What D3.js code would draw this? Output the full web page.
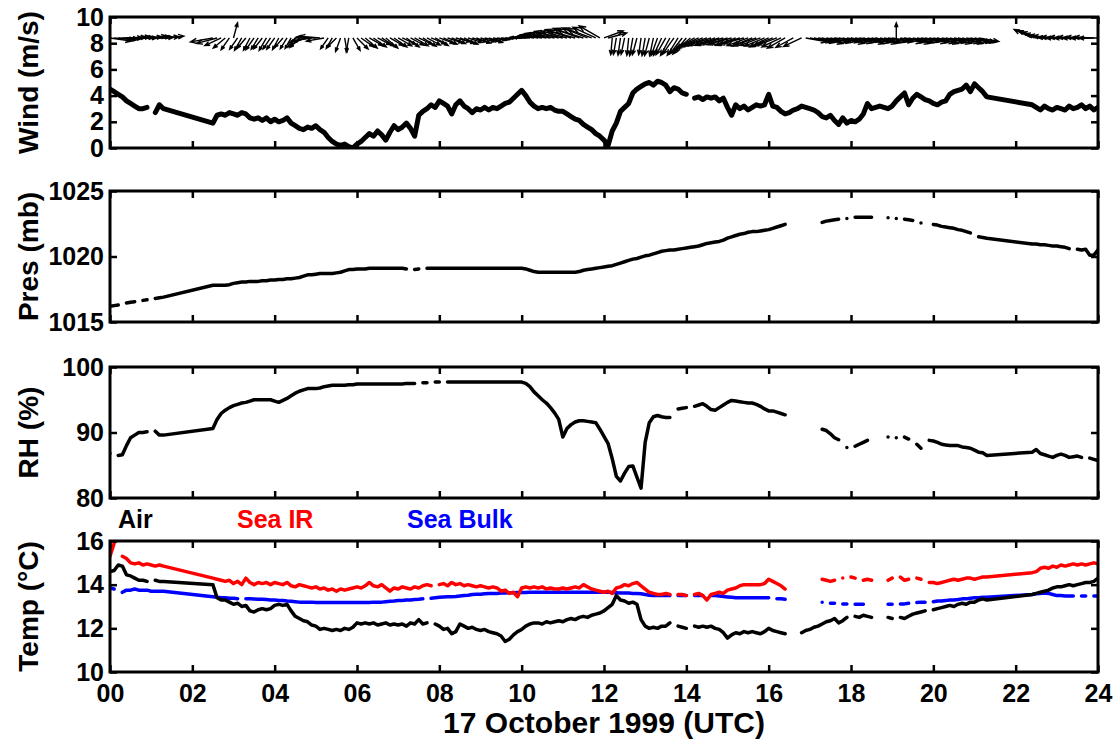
<!DOCTYPE html>
<html>
<head>
<meta charset="utf-8">
<script src="https://cdn.jsdelivr.net/npm/d3@7"></script>
<style>
  body { margin: 0; background: #fff; }
  text { font-family: "Liberation Sans", Arial, Helvetica, sans-serif; font-weight: bold; }
</style>
</head>
<body>
<svg id="chart" width="1116" height="740"></svg>
<script>
// time grid in tenths of an hour; no records between 1.3-2.5 h and 21.3-22.4 h
const recordSpans = [[0, 13], [25, 213], [224, 240]];
const hours = recordSpans.flatMap(([a, b]) => d3.range(a, b + 1).map(k => k / 10));

const xTicks = [0, 2, 4, 6, 8, 10, 12, 14, 16, 18, 20, 22, 24];

// wind speed (m/s)
const windSpeed = [
  4.5,4.3,4.1,3.9,3.6,3.4,3.2,3.0,3.0,3.1,null,2.7,3.3,3.0,
  1.9,2.5,2.6,2.5,2.7,
  2.6,2.5,2.7,2.6,2.3,2.2,2.3,2.1,2.3,2.0,
  2.2,2.0,2.1,2.3,1.9,1.7,1.5,1.4,1.6,1.5,
  1.7,1.4,1.2,0.8,0.5,0.3,0.2,0.3,0.1,0.0,
  0.3,0.5,0.8,1.1,0.9,1.3,1.0,0.6,1.2,1.7,
  1.4,1.6,1.9,1.5,0.9,2.5,2.8,3.0,3.3,3.1,
  3.6,3.4,3.2,2.6,3.3,3.6,3.2,3.0,2.7,3.0,
  2.9,3.1,2.9,3.1,3.0,3.2,3.4,3.5,3.8,4.1,
  4.4,4.0,3.5,3.2,3.0,3.1,3.0,3.1,2.9,2.8,
  2.8,2.6,2.4,2.2,2.1,1.8,1.6,1.4,1.1,0.9,
  0.6,0.2,1.3,1.9,2.8,3.1,3.4,4.2,4.5,4.7,
  4.9,5.0,4.8,5.1,5.0,4.8,4.3,4.6,4.5,4.2,
  4.1,null,3.8,3.9,3.7,3.9,3.8,3.9,3.6,3.8,
  3.1,2.5,3.3,3.0,3.2,2.9,3.1,3.3,3.2,3.3,
  4.1,3.2,3.1,2.8,2.6,2.7,2.9,3.0,3.2,3.1,
  3.0,2.9,2.7,2.4,2.3,2.5,2.1,1.8,2.3,1.9,
  2.1,2.0,2.2,2.6,3.4,3.0,3.1,3.2,3.1,3.0,
  3.2,3.6,3.9,4.2,3.3,3.8,4.1,3.9,3.7,3.6,
  3.4,3.3,3.5,3.6,4.1,4.3,4.4,4.5,4.8,4.3,
  4.9,4.6,4.3,3.9,
  3.3,3.1,2.9,3.2,3.0,2.9,3.1,3.0,2.9,3.2,3.0,3.1,3.3,3.0,3.2,2.9,3.1
];

// wind stick direction (degrees, 0 = toward right, 90 = up)
const stickDir = [
  -8,-5,-3,0,2,3,2,0,3,5,4,2,3,5,
  -170,-165,-155,-140,-125,
  75,-125,-120,-130,-118,-125,-122,-128,-120,-124,
  -125,-118,-130,-122,-120,-128,-135,-150,-165,-172,
  178,175,-170,-125,-120,-135,-110,-80,-100,-60,
  -45,-35,-40,-30,-35,-28,-33,-40,-30,-35,
  -30,-25,-35,-28,-30,-25,-32,-28,-22,-30,
  -20,-25,-18,-22,-15,-20,-25,-18,-15,-20,
  -15,-12,-18,-10,-8,-5,-3,0,3,5,
  175,178,175,172,170,172,168,170,168,165,
  168,165,162,165,160,163,158,160,155,150,
  20,15,-95,-100,-98,-102,-96,-100,-105,-98,
  -100,-105,-102,-110,-115,-120,-118,-125,-122,-128,
  -130,-140,-150,-155,-158,-160,-162,-160,-163,-165,
  -162,-165,-160,-163,-165,-160,-158,-162,-160,-158,
  -155,-158,-160,-155,-150,null,-152,null,-155,-10,
  -10,-12,-8,-15,-10,-12,-8,-10,-14,-10,
  -12,-10,-8,-15,-12,-10,-14,-12,-10,-8,
  -10,90,-12,-10,-14,-12,-10,-8,-12,-10,
  -12,-15,-10,-12,-14,-10,-12,-15,-10,-12,
  -12,-10,null,null,
  155,158,162,168,172,175,178,178,180,178,180,178,180,178,180,178,180
];

// wind stick magnitude (m/s)
const stickMag = [
  3.6,3.5,3.4,3.4,3.3,3.3,3.2,3.0,3.2,3.3,3.2,3.0,3.3,3.4,
  3.8,3.5,3.0,2.6,2.4,
  2.6,2.3,2.4,2.2,2.3,2.4,2.2,2.3,2.4,2.2,
  2.3,2.2,2.0,2.1,2.0,1.9,2.2,2.8,3.2,3.4,
  3.3,3.4,3.0,2.2,2.0,2.2,2.4,2.3,2.4,2.4,
  2.6,2.5,2.6,2.5,2.6,2.4,2.5,2.6,2.5,2.6,
  2.6,2.5,2.6,2.5,2.6,2.5,2.6,2.5,2.6,2.5,
  2.6,2.5,2.6,2.5,2.5,2.6,2.5,2.4,2.5,2.5,
  2.5,2.5,2.4,2.2,2.0,1.8,1.6,1.5,1.5,1.6,
  1.8,2.0,2.3,2.6,3.0,3.3,3.6,3.8,4.0,4.2,
  4.3,4.4,4.5,4.5,4.6,4.6,4.5,4.4,4.2,4.0,
  3.4,3.2,2.8,2.8,2.9,2.8,2.9,3.0,2.9,2.8,
  3.0,3.0,3.0,3.1,3.2,3.2,3.3,3.3,3.4,3.4,
  3.5,3.5,3.6,3.6,3.6,3.7,3.7,3.6,3.7,3.7,
  3.6,3.7,3.6,3.7,3.6,3.7,3.6,3.7,3.6,3.6,
  3.5,3.5,3.4,3.5,3.4,null,3.3,null,3.3,3.6,
  3.7,3.6,3.7,3.6,3.7,3.6,3.7,3.6,3.7,3.6,
  3.7,3.6,3.7,3.6,3.7,3.6,3.7,3.6,3.7,3.6,
  3.6,2.5,3.7,3.6,3.7,3.6,3.7,3.6,3.7,3.6,
  3.7,3.6,3.7,3.6,3.7,3.6,3.7,3.6,3.7,3.6,
  3.5,3.4,null,null,
  3.3,3.2,3.2,3.3,3.2,3.3,3.2,3.3,3.2,3.3,3.2,3.3,3.2,3.3,3.2,3.3,3.2
];

// pressure (mb)
const pressure = [
  1016.2,1016.25,1016.3,null,1016.45,1016.5,1016.55,null,1016.65,1016.7,null,1016.8,1016.85,1016.9,
  1017.8,1017.8,1017.8,1017.8,1017.85,
  1017.95,1018.0,1018.05,1018.05,1018.1,1018.1,1018.1,1018.15,1018.15,1018.2,
  1018.2,1018.25,1018.25,1018.3,1018.3,1018.35,1018.4,1018.5,1018.6,1018.6,
  1018.65,1018.7,1018.7,1018.7,1018.7,1018.75,1018.8,1018.9,1019.0,1019.0,
  1019.05,1019.05,1019.05,1019.1,1019.1,1019.1,1019.1,1019.1,1019.1,1019.1,
  1019.1,1019.1,1019.05,null,1019.0,1019.05,null,1019.1,1019.1,1019.1,
  1019.1,1019.1,1019.1,1019.1,1019.1,1019.1,1019.1,1019.1,1019.1,1019.1,
  1019.1,1019.1,1019.1,1019.1,1019.1,1019.1,1019.1,1019.1,1019.1,1019.1,
  1019.1,1019.05,1018.95,1018.85,1018.8,1018.8,1018.8,1018.8,1018.8,1018.8,
  1018.8,1018.8,1018.8,1018.8,1018.85,1018.95,1019.0,1019.05,1019.1,1019.15,
  1019.2,1019.25,1019.3,1019.4,1019.5,1019.6,1019.7,1019.8,1019.85,1019.95,
  1020.05,1020.1,1020.2,1020.3,1020.4,1020.45,1020.5,1020.5,1020.55,1020.6,
  1020.65,1020.7,1020.75,1020.8,1020.9,1021.0,1021.05,1021.1,1021.15,1021.25,
  1021.4,1021.5,1021.6,1021.7,1021.75,1021.85,1021.9,1021.9,1021.95,1022.0,
  1022.05,1022.15,1022.25,1022.35,1022.45,null,null,null,null,null,
  null,null,null,1022.6,1022.7,1022.75,1022.8,1022.85,null,1022.9,
  null,1023.0,1023.0,1023.0,1023.0,1023.0,null,null,null,1022.95,
  null,1022.9,null,1022.85,1022.8,1022.75,null,1022.55,null,null,
  1022.45,1022.4,1022.3,1022.25,1022.2,1022.15,1022.05,1022.0,1021.9,1021.8,
  null,1021.5,1021.45,1021.4,
  1020.95,1020.95,1020.9,1020.9,1020.85,1020.8,1020.8,1020.75,1020.7,1020.6,null,1020.55,1020.5,1020.55,1020.1,1020.1,1020.5
];

// relative humidity (%)
const relHum = [
  86.8,null,86.5,86.6,88.0,89.2,89.6,90.0,90.0,90.1,null,90.2,89.6,89.6,
  90.6,92.0,92.9,93.4,93.8,
  94.1,94.3,94.5,94.6,94.8,95.0,95.0,95.0,95.0,95.0,
  94.8,94.6,94.9,95.2,95.6,96.0,96.3,96.5,96.7,96.7,
  96.7,96.8,97.0,97.1,97.2,97.2,97.2,97.2,97.3,97.3,
  97.4,97.4,97.4,97.4,97.4,97.4,97.4,97.4,97.4,97.4,
  97.4,97.4,97.5,97.5,97.5,null,97.6,97.6,null,97.7,
  97.7,null,97.7,97.7,97.7,97.7,97.7,97.7,97.7,97.7,
  97.7,97.7,97.7,97.7,97.7,97.7,97.7,97.7,97.7,97.7,
  97.7,97.5,97.0,96.2,95.6,95.0,94.5,93.8,93.0,92.0,
  89.3,90.6,91.2,91.6,91.8,91.8,91.7,91.6,91.5,90.5,
  89.4,88.3,86.0,83.3,82.6,83.8,84.8,84.9,83.2,81.5,
  88.5,91.5,92.4,92.6,92.4,92.3,92.3,null,93.6,93.7,
  93.8,null,94.0,94.2,94.4,94.0,93.5,93.4,93.8,94.2,
  94.6,94.9,94.8,94.7,94.6,94.5,94.5,94.3,94.0,93.6,
  93.3,93.3,93.1,92.9,92.7,null,null,null,null,null,
  null,null,null,90.5,90.3,89.8,89.2,88.9,null,87.7,
  null,87.9,88.2,88.5,88.8,null,null,null,null,89.3,
  null,89.2,null,89.3,89.0,null,88.2,87.6,null,88.8,
  88.7,88.5,88.2,88.1,88.0,88.0,88.0,87.8,87.7,87.6,
  87.3,87.0,86.9,86.5,
  87.0,87.4,86.8,86.6,86.4,86.2,86.5,86.7,86.5,86.2,86.3,86.4,86.2,null,86.1,85.9,85.7
];

// air temperature (deg C)
const tempAir = [
  14.6,14.65,14.9,14.85,14.45,14.4,14.3,14.2,14.2,14.15,null,14.2,14.15,14.15,
  14.0,13.4,13.3,13.3,13.2,
  13.1,13.15,13.0,13.05,12.8,12.75,12.85,12.9,12.85,12.9,
  13.05,13.1,13.05,13.1,12.8,12.55,12.45,12.35,12.3,12.15,
  12.1,11.95,12.0,11.95,11.9,11.95,11.9,12.0,11.95,12.05,
  12.25,12.2,12.25,12.2,12.25,12.15,12.2,12.25,12.15,12.2,
  12.15,12.2,12.1,12.25,12.2,12.4,12.2,12.25,null,12.2,
  12.1,11.95,12.0,11.75,11.85,12.2,12.1,12.0,12.05,11.95,
  11.9,11.95,11.85,11.8,11.75,11.65,11.4,11.5,11.7,11.85,
  11.95,12.1,12.2,12.25,12.25,12.2,12.3,12.25,12.3,12.35,
  12.3,12.4,12.45,12.4,12.5,12.55,12.5,12.6,12.65,12.7,
  12.8,12.95,13.1,13.5,13.3,13.25,13.15,13.2,13.1,12.4,
  12.1,12.0,12.05,12.0,12.1,12.1,12.25,null,12.1,12.05,
  12.0,null,12.1,12.05,12.1,12.05,12.1,12.0,11.95,11.8,
  11.55,11.7,11.8,11.75,11.85,11.8,11.85,11.8,11.75,11.85,
  12.0,11.9,11.85,11.8,11.75,null,null,null,11.8,11.9,
  11.95,12.05,12.1,12.2,12.3,12.35,12.45,12.25,12.35,12.5,
  null,12.55,12.5,12.6,12.55,12.5,null,null,null,12.5,
  12.45,null,12.5,12.45,12.55,12.65,12.7,12.75,12.8,null,
  12.85,12.9,12.95,13.0,13.05,13.0,13.1,13.15,13.1,13.2,
  13.2,13.3,13.35,13.3,
  13.55,13.6,13.65,13.7,13.75,13.85,13.9,13.9,13.95,14.0,13.95,14.0,14.05,14.1,14.1,14.15,14.3
];

// sea surface temperature, infrared (deg C)
const tempSeaIR = [
  15.3,15.9,null,15.3,15.2,15.0,14.95,15.0,14.9,14.95,14.9,14.85,14.9,14.85,
  14.3,14.25,14.2,14.15,14.2,
  14.05,14.15,14.0,14.3,14.1,14.0,14.1,14.05,14.1,14.0,
  14.1,14.05,14.0,14.1,13.95,13.9,14.0,13.95,13.9,13.85,
  13.9,13.8,13.85,13.75,13.8,13.7,13.8,13.75,13.8,13.85,
  13.9,13.85,13.95,14.1,13.95,13.9,14.0,13.85,13.7,13.85,
  13.8,13.9,13.85,13.8,13.9,13.85,13.95,14.0,13.95,null,
  14.0,14.05,13.95,14.1,14.0,14.05,13.95,14.0,13.95,13.9,
  13.95,13.9,13.85,13.9,13.85,13.7,13.75,13.6,13.65,13.45,
  13.85,13.9,13.85,13.9,13.85,13.9,13.8,13.85,13.8,13.8,
  13.85,13.8,13.85,13.9,13.85,14.0,13.9,13.8,13.75,13.7,
  13.65,13.7,13.6,13.85,13.9,14.0,13.95,14.05,14.1,13.95,
  13.8,13.65,13.6,13.55,13.55,13.6,13.55,null,13.55,13.55,
  13.5,null,13.55,13.6,13.5,13.3,13.55,13.6,13.65,13.6,
  13.75,13.8,13.85,13.95,14.0,14.0,14.0,14.0,14.0,14.05,
  14.25,14.15,14.05,13.95,13.8,null,null,null,null,null,
  null,null,null,14.25,14.2,14.15,14.2,null,14.3,null,
  14.35,14.3,null,14.2,14.25,14.2,null,null,null,14.2,
  14.3,null,14.35,14.2,14.25,null,14.3,14.25,null,14.1,
  14.1,14.05,14.1,14.15,14.2,14.25,14.2,14.25,14.3,14.3,
  14.25,14.3,14.35,14.35,
  14.55,14.6,14.75,14.8,14.75,14.85,14.8,14.9,14.85,14.9,14.95,14.9,14.95,14.9,14.95,15.0,14.95
];

// sea bulk temperature (deg C)
const tempSeaBulk = [
  13.85,13.8,null,13.65,13.75,13.75,13.8,13.75,13.75,13.75,13.7,13.7,13.7,13.7,
  13.45,13.42,13.4,13.4,13.38,
  13.38,13.36,null,13.35,13.35,13.34,13.33,13.33,13.32,13.3,
  13.3,13.28,13.27,13.25,13.24,13.22,13.2,13.2,13.2,13.2,
  13.18,13.18,13.18,13.18,13.18,13.18,13.18,13.18,13.18,13.18,
  13.18,13.18,13.18,13.18,13.2,13.2,13.2,13.22,13.24,13.25,
  13.27,13.28,13.3,13.3,13.32,13.33,13.35,null,13.38,13.4,
  13.42,13.44,13.45,13.45,13.46,13.48,13.5,13.52,13.55,13.56,
  13.56,13.58,13.6,13.6,13.6,13.62,13.62,13.63,13.63,13.64,
  13.64,13.64,13.65,13.65,13.65,13.65,13.65,13.65,13.65,13.65,
  13.65,13.65,13.65,13.65,13.65,13.65,13.65,13.65,13.65,13.65,
  13.65,13.65,13.64,13.63,13.62,13.62,13.62,13.6,13.6,13.58,
  13.55,13.52,13.5,13.5,13.5,13.5,13.5,null,13.5,13.5,
  13.5,null,13.5,13.5,13.5,null,13.5,13.5,13.48,13.46,
  13.44,13.42,13.4,13.4,13.4,13.4,13.4,13.4,13.4,13.4,
  13.4,null,13.35,13.35,13.33,null,null,null,null,null,
  null,null,null,13.2,null,13.15,13.15,null,13.12,13.12,
  null,13.1,13.1,13.1,null,null,null,null,null,13.1,
  13.1,null,13.12,13.12,13.15,null,13.18,13.2,13.2,null,
  13.22,13.25,13.25,13.27,13.3,13.3,13.32,13.35,13.35,13.38,
  13.4,13.4,13.42,13.42,
  13.55,13.58,13.6,13.62,13.6,13.55,13.5,13.5,13.48,13.48,13.48,null,13.48,13.48,null,13.48,13.48
];

const legendNames = ["Air", "Sea IR", "Sea Bulk"];
const legendColors = ["#000000", "#ff0000", "#0000ff"];

const svg = d3.select("#chart");
const left = 110, right = 1098, panelH = 131;
const panelTops = [17, 191, 367, 541];

const x = d3.scaleLinear().domain([0, 24]).range([left, right]);

function makePanel(i, domain, yTicks, title) {
  const top = panelTops[i];
  const y = d3.scaleLinear().domain(domain).range([top + panelH, top]);
  const g = svg.append("g");

  svg.append("clipPath").attr("id", "clip" + i)
    .append("rect").attr("x", left).attr("y", top).attr("width", right - left).attr("height", panelH);
  const plot = g.append("g").attr("clip-path", "url(#clip" + i + ")");

  const axL = g.append("g").attr("transform", "translate(" + left + ",0)")
    .call(d3.axisLeft(y).tickValues(yTicks).tickSize(-7).tickPadding(6).tickFormat(d3.format("d")));
  const axR = g.append("g").attr("transform", "translate(" + right + ",0)")
    .call(d3.axisRight(y).tickValues(yTicks).tickSize(-7).tickFormat(""));
  const axT = g.append("g").attr("transform", "translate(0," + top + ")")
    .call(d3.axisTop(x).tickValues(xTicks).tickSize(-7).tickFormat(""));
  const axB = g.append("g").attr("transform", "translate(0," + (top + panelH) + ")")
    .call(d3.axisBottom(x).tickValues(xTicks).tickSize(-7).tickPadding(12)
      .tickFormat(i == 3 ? d3.format("02d") : ""));

  [axL, axR, axT, axB].forEach(a => {
    a.select(".domain").remove();
    a.selectAll(".tick line").attr("stroke", "#000").attr("stroke-width", 2.5);
    a.selectAll("text").attr("font-size", 25).attr("fill", "#000")
      .style("font-family", '"Liberation Sans", Arial, sans-serif').style("font-weight", "bold");
  });

  g.append("rect")
    .attr("x", left).attr("y", top).attr("width", right - left).attr("height", panelH)
    .attr("fill", "none").attr("stroke", "#000").attr("stroke-width", 3);

  g.append("text")
    .attr("transform", "translate(38," + (top + panelH / 2) + ") rotate(-90)")
    .attr("text-anchor", "middle").attr("font-size", 28)
    .text(title);

  return { y, plot };
}

function drawSeries(p, vals, color, width) {
  const pts = hours.map((t, i) => ({ t: t, v: vals[i] }));
  const line = d3.line()
    .defined(d => d.v != null)
    .x(d => x(d.t))
    .y(d => p.y(d.v));
  p.plot.append("path")
    .attr("d", line(pts))
    .attr("fill", "none")
    .attr("stroke", color)
    .attr("stroke-width", width)
    .attr("stroke-linecap", "round")
    .attr("stroke-linejoin", "round");
}

// panel 1: wind
const windP = makePanel(0, [0, 10], [0, 2, 4, 6, 8, 10], "Wind (m/s)");
const stickBase = 8.4;
const stickLen = d3.scaleLinear().domain([0, 1]).range([0, 6]);  // px per m/s
const sticks = hours.map((t, i) => ({ t: t, dir: stickDir[i], mag: stickMag[i] }))
  .filter(d => d.dir != null && d.mag != null);

windP.plot.selectAll("path.stick")
  .data(sticks)
  .enter()
  .append("path")
  .attr("class", "stick")
  .attr("d", function(d) {
    const x0 = x(d.t), y0 = windP.y(stickBase);
    const L = stickLen(d.mag), a = d.dir * Math.PI / 180;
    const x1 = x0 + L * Math.cos(a), y1 = y0 - L * Math.sin(a);
    const h = L * 0.3, back = a + Math.PI;
    const hx1 = x1 + h * Math.cos(back + 0.38), hy1 = y1 - h * Math.sin(back + 0.38);
    const hx2 = x1 + h * Math.cos(back - 0.38), hy2 = y1 - h * Math.sin(back - 0.38);
    return "M" + x0 + "," + y0 + "L" + x1 + "," + y1 +
      "M" + hx1 + "," + hy1 + "L" + x1 + "," + y1 + "L" + hx2 + "," + hy2;
  })
  .attr("fill", "none")
  .attr("stroke", "#000")
  .attr("stroke-width", 1.4);

drawSeries(windP, windSpeed, "#000", 5);

// panel 2: pressure
const presP = makePanel(1, [1015, 1025], [1015, 1020, 1025], "Pres (mb)");
drawSeries(presP, pressure, "#000", 3.5);

// panel 3: relative humidity
const rhP = makePanel(2, [80, 100], [80, 90, 100], "RH (%)");
drawSeries(rhP, relHum, "#000", 3.5);

// panel 4: temperatures
const tempP = makePanel(3, [10, 16], [10, 12, 14, 16], "Temp (\u00B0C)");
drawSeries(tempP, tempSeaBulk, legendColors[2], 3.5);
drawSeries(tempP, tempSeaIR, legendColors[1], 3.5);
drawSeries(tempP, tempAir, legendColors[0], 3.5);

// legend above the temperature panel
const legendX = [118, 237, 407];
svg.selectAll("text.legend")
  .data(legendNames)
  .enter()
  .append("text")
  .attr("class", "legend")
  .attr("x", (d, i) => legendX[i])
  .attr("y", 528)
  .attr("font-size", 25)
  .attr("fill", (d, i) => legendColors[i])
  .text(d => d);

// x axis title
svg.append("text")
  .attr("x", (left + right) / 2)
  .attr("y", 733)
  .attr("text-anchor", "middle")
  .attr("font-size", 30)
  .text("17 October 1999 (UTC)");
</script>
</body>
</html>
